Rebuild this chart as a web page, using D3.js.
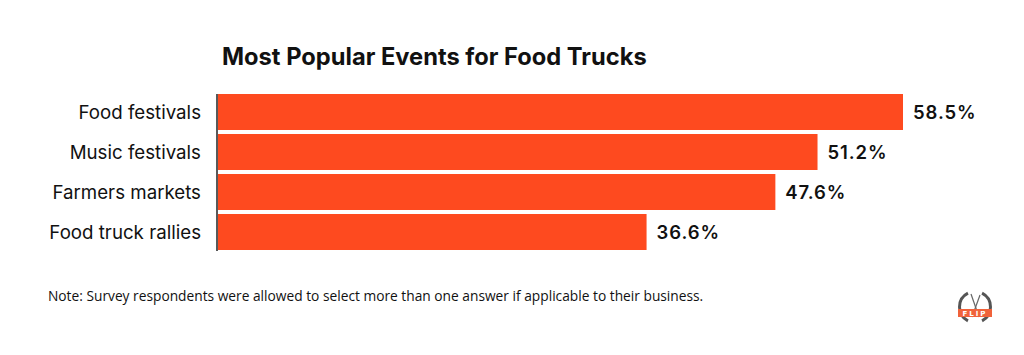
<!DOCTYPE html>
<html>
<head>
<meta charset="utf-8">
<script src="https://cdn.jsdelivr.net/npm/d3@7"></script>
<style>
  body { margin: 0; background: #fff; }
  svg { display: block; }
</style>
</head>
<body>
<div id="chart"></div>
<script>
const W = 1024, H = 355

// data
const categories = ["Food festivals", "Music festivals", "Farmers markets", "Food truck rallies"]
const values = [58.5, 51.2, 47.6, 36.6]
const valueLabels = ["58.5%", "51.2%", "47.6%", "36.6%"]
const titleText = "Most Popular Events for Food Trucks"
const noteText = "Note: Survey respondents were allowed to select more than one answer if applicable to their business."

const barColor = "#fe4a1f"

const svg = d3.select("#chart").append("svg")
    .attr("width", W)
    .attr("height", H)

svg.append("text")
    .attr("x", 222)
    .attr("y", 65)
    .attr("font-family", "Inter")
    .attr("font-weight", 700)
    .attr("font-size", 23.7)
    .attr("fill", "#111")
    .text(titleText)

const x = d3.scaleLinear().domain([0, 58.5]).range([218, 903])
const y = d3.scaleBand().domain(categories).range([94, 250]).paddingInner(0.1).paddingOuter(0)

svg.selectAll("rect.bar")
  .data(values)
  .join("rect")
    .attr("class", "bar")
    .attr("x", x(0))
    .attr("y", (d, i) => y(categories[i]))
    .attr("width", d => x(d) - x(0))
    .attr("height", y.bandwidth())
    .attr("fill", barColor)

// category labels
svg.selectAll("text.cat")
  .data(categories)
  .join("text")
    .attr("class", "cat")
    .attr("x", 201)
    .attr("y", d => y(d) + y.bandwidth() / 2)
    .attr("dy", "0.4em")
    .attr("text-anchor", "end")
    .attr("font-family", "Inter")
    .attr("font-size", 18.7)
    .attr("fill", "#111")
    .text(d => d)

// value labels
svg.selectAll("text.val")
  .data(values)
  .join("text")
    .attr("class", "val")
    .attr("x", d => x(d) + 10)
    .attr("y", (d, i) => y(categories[i]) + y.bandwidth() / 2)
    .attr("dy", "0.37em")
    .attr("font-family", "Inter")
    .attr("font-weight", 600)
    .attr("font-size", 18.5)
    .attr("letter-spacing", 0.9)
    .attr("fill", "#111")
    .text((d, i) => valueLabels[i])

// axis line
svg.append("line")
    .attr("x1", 217).attr("x2", 217)
    .attr("y1", 94).attr("y2", 251)
    .attr("stroke", "#222")
    .attr("stroke-width", 1.5)

svg.append("text")
    .attr("x", 48)
    .attr("y", 301)
    .attr("font-family", "Open Sans")
    .attr("font-size", 13.75)
    .attr("fill", "#111")
    .text(noteText)

// little logo, bottom right
const logo = svg.append("g").attr("transform", "translate(975,307)")
const wreath = d3.arc().innerRadius(14).outerRadius(17)
logo.append("path")
    .attr("d", wreath({startAngle: -Math.PI * 0.85, endAngle: -Math.PI * 0.15}))
    .attr("fill", "#555")
logo.append("path")
    .attr("d", wreath({startAngle: Math.PI * 0.15, endAngle: Math.PI * 0.85}))
    .attr("fill", "#555")
logo.append("line").attr("x1", -4).attr("y1", -13).attr("x2", 4).attr("y2", 10)
    .attr("stroke", "#666").attr("stroke-width", 1.2)
logo.append("line").attr("x1", 5).attr("y1", -12).attr("x2", -3).attr("y2", 10)
    .attr("stroke", "#666").attr("stroke-width", 1.2)
logo.append("rect").attr("x", -17).attr("y", 2).attr("width", 34).attr("height", 8)
    .attr("fill", "#f0623a")
logo.append("text").attr("x", 0).attr("y", 9)
    .attr("text-anchor", "middle")
    .attr("font-family", "DejaVu Sans")
    .attr("font-weight", 700)
    .attr("font-size", 7)
    .attr("letter-spacing", 2)
    .attr("fill", "#fff")
    .text("FLIP")
</script>
</body>
</html>
